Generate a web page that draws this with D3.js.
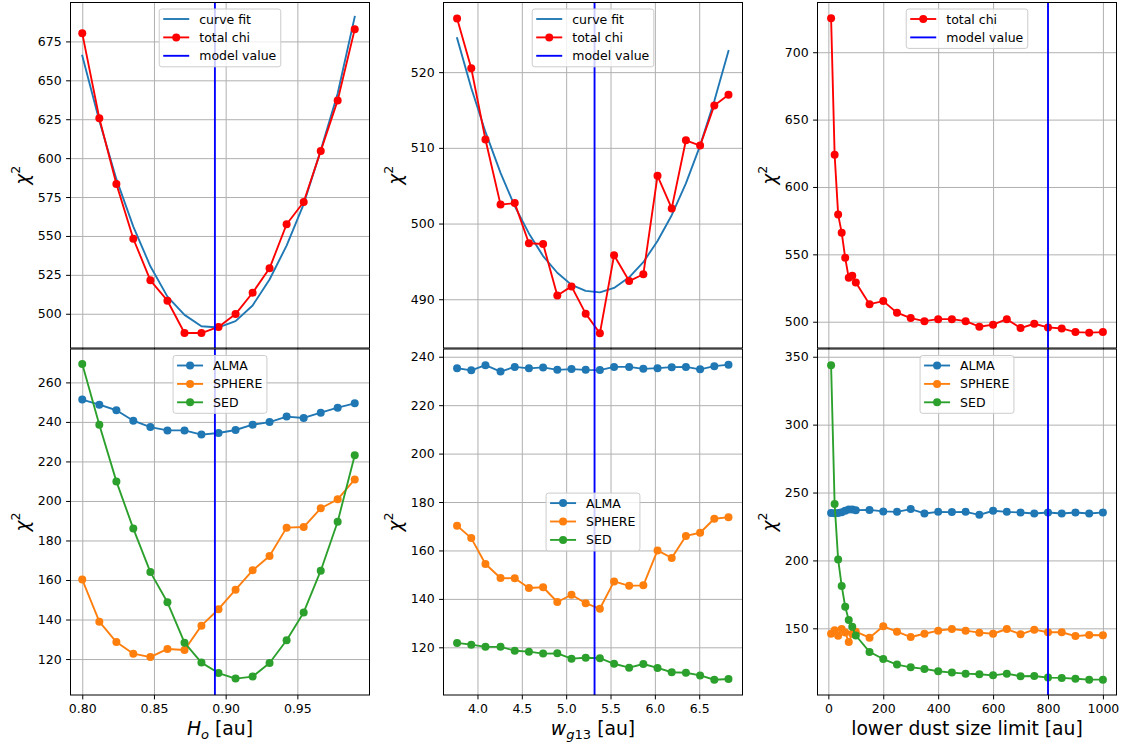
<!DOCTYPE html>
<html>
<head>
<meta charset="utf-8">
<script src="https://cdn.jsdelivr.net/npm/d3@7/dist/d3.min.js"></script>
<style>
body { margin: 0; background: #fff; }
svg { display: block; font-family: "DejaVu Sans", sans-serif; }
</style>
</head>
<body>
<svg id="chart" width="1126" height="748"></svg>
<script>
// scan over H_o
var hoX = [0.8, 0.8119, 0.8238, 0.8356, 0.8475, 0.8594, 0.8713, 0.8831, 0.895, 0.9069, 0.9188, 0.9306, 0.9425, 0.9544, 0.9663, 0.9781, 0.99];
var hoTotal = [680.2, 625.6, 583.4, 548.2, 521.5, 508.4, 487.6, 487.6, 491.5, 499.8, 513.5, 529.2, 557.5, 571.8, 604.6, 637.1, 682.8];
var hoFit = [665.8, 624.0, 586.5, 556.0, 530.5, 511.0, 499.3, 492.0, 491.2, 495.3, 505.3, 522.0, 543.8, 570.5, 605.0, 641.5, 690.8];
var hoAlma = [251.3, 248.7, 245.9, 240.6, 237.4, 235.7, 235.7, 233.6, 234.4, 235.9, 238.6, 239.9, 242.7, 242.0, 244.7, 247.2, 249.4];
var hoSphere = [160.2, 138.9, 128.6, 122.7, 121.0, 125.1, 124.6, 136.9, 145.2, 155.1, 164.9, 172.1, 186.5, 186.8, 196.3, 200.8, 210.9];
var hoSed = [269.3, 238.6, 209.9, 186.0, 164.0, 148.7, 128.3, 118.2, 112.9, 110.1, 111.1, 118.0, 129.5, 143.6, 164.7, 189.5, 223.1];
var hoModel = 0.8925;

// scan over w_g13
var wgX = [3.77, 3.93, 4.09, 4.26, 4.42, 4.58, 4.74, 4.90, 5.06, 5.22, 5.38, 5.54, 5.71, 5.87, 6.03, 6.19, 6.35, 6.51, 6.67, 6.83];
var wgTotal = [527.1, 520.5, 511.1, 502.5, 502.7, 497.4, 497.3, 490.5, 491.7, 488.1, 485.5, 495.8, 492.4, 493.3, 506.3, 502.0, 511.0, 510.3, 515.6, 517.0];
var wgFit = [524.5, 517.9, 512.1, 506.7, 502.3, 498.7, 495.7, 493.5, 491.9, 491.1, 490.9, 491.5, 492.9, 494.9, 497.7, 501.1, 505.3, 510.3, 516.2, 522.8];
var wgAlma = [235.3, 234.4, 236.5, 233.9, 235.8, 235.2, 235.6, 234.6, 234.9, 234.6, 234.5, 235.8, 235.8, 235.0, 235.3, 235.7, 235.8, 234.8, 236.1, 236.7];
var wgSphere = [170.2, 165.1, 154.4, 148.6, 148.5, 144.5, 144.8, 138.7, 141.7, 138.2, 135.9, 147.2, 145.4, 145.6, 160.0, 156.9, 166.0, 167.3, 173.1, 173.7];
var wgSed = [121.8, 121.1, 120.2, 120.2, 118.6, 118.2, 117.4, 117.5, 115.3, 115.7, 115.5, 113.2, 111.6, 113.1, 111.5, 109.7, 109.5, 108.4, 106.6, 106.9];
var wgModel = 5.32;

// scan over lower dust size limit
var sizeX = [10, 22.9, 35.7, 48.6, 61.4, 74.3, 87.1, 100, 150, 200, 250, 300, 350, 400, 450, 500, 550, 600, 650, 700, 750, 800, 850, 900, 950, 1000];
var sizeTotal = [725.2, 623.9, 579.5, 566.1, 547.4, 532.6, 534.1, 529.1, 513.0, 515.3, 506.7, 502.7, 500.4, 501.9, 501.9, 500.4, 496.3, 497.8, 501.9, 495.3, 498.5, 495.8, 495.0, 492.3, 491.9, 492.3];
var sizeAlma = [235.0, 234.8, 235.0, 235.5, 236.5, 237.5, 237.5, 237.0, 237.2, 236.1, 235.8, 237.8, 234.6, 235.8, 235.6, 235.8, 233.6, 236.6, 235.8, 235.3, 234.6, 235.3, 234.6, 235.3, 234.6, 235.3];
var sizeSphere = [146.0, 148.5, 144.5, 149.5, 147.0, 140.0, 146.0, 147.5, 143.1, 151.5, 147.5, 143.6, 146.0, 148.3, 149.5, 148.3, 146.8, 146.0, 149.5, 145.6, 149.0, 147.1, 147.1, 144.3, 145.1, 144.9];
var sizeSed = [343.8, 241.5, 200.7, 181.2, 165.9, 156.1, 151.1, 144.7, 132.6, 127.4, 123.3, 121.3, 120.1, 118.4, 117.4, 116.6, 116.2, 115.4, 116.6, 114.7, 114.9, 113.7, 113.5, 112.9, 112.2, 112.2];
var sizeModel = 800;

// tick labels
var hoTicks = [0.80, 0.85, 0.90, 0.95];
var wgTicks = [4.0, 4.5, 5.0, 5.5, 6.0, 6.5];
var sizeTicks = [0, 200, 400, 600, 800, 1000];
var hoTopTicks = [500, 525, 550, 575, 600, 625, 650, 675];
var wgTopTicks = [490, 500, 510, 520];
var sizeTopTicks = [500, 550, 600, 650, 700];
var hoBotTicks = [120, 140, 160, 180, 200, 220, 240, 260];
var wgBotTicks = [120, 140, 160, 180, 200, 220, 240];
var sizeBotTicks = [150, 200, 250, 300, 350];

var C_BLUE = "#1f77b4", C_ORANGE = "#ff7f0e", C_GREEN = "#2ca02c";
var colLeft = [70.5, 443.5, 817.5],
    rowTop = [2.5, 349],
    rowH = [345.5, 346],
    axW = 299,
    lw = 1.875,
    mr = 4;

var svg = d3.select("#chart");

var topItems = [
    {label: "curve fit", color: C_BLUE, marker: false},
    {label: "total chi", color: "red", marker: true},
    {label: "model value", color: "blue", marker: false}
];
var botItems = [
    {label: "ALMA", color: C_BLUE, marker: true},
    {label: "SPHERE", color: C_ORANGE, marker: true},
    {label: "SED", color: C_GREEN, marker: true}
];

var panels = [
    {col: 0, row: 0, x: hoX, xDomain: [0.7918, 1.0003], yDomain: [478, 700], xTicks: hoTicks, yTicks: hoTopTicks, xFmt: ".2f",
     series: [{y: hoFit, color: C_BLUE, marker: false}, {y: hoTotal, color: "red", marker: true}],
     model: hoModel, legend: topItems, loc: "upper"},
    {col: 1, row: 0, x: wgX, xDomain: [3.617, 6.988], yDomain: [483.56, 529.2], xTicks: wgTicks, yTicks: wgTopTicks, xFmt: ".1f",
     series: [{y: wgFit, color: C_BLUE, marker: false}, {y: wgTotal, color: "red", marker: true}],
     model: wgModel, legend: topItems, loc: "upper"},
    {col: 2, row: 0, x: sizeX, xDomain: [-39.5, 1049.5], yDomain: [480.5, 736.9], xTicks: sizeTicks, yTicks: sizeTopTicks, xFmt: "d",
     series: [{y: sizeTotal, color: "red", marker: true}],
     model: sizeModel, legend: topItems.slice(1), loc: "upper"},
    {col: 0, row: 1, x: hoX, xDomain: [0.7918, 1.0003], yDomain: [101.8, 276.9], xTicks: hoTicks, yTicks: hoBotTicks, xFmt: ".2f",
     series: [{y: hoAlma, color: C_BLUE, marker: true}, {y: hoSphere, color: C_ORANGE, marker: true}, {y: hoSed, color: C_GREEN, marker: true}],
     model: hoModel, legend: botItems, loc: "upper",
     xLabel: [{t: "H", it: true}, {t: "o", it: true, sub: true}, {t: " [au]"}]},
    {col: 1, row: 1, x: wgX, xDomain: [3.617, 6.988], yDomain: [100.3, 243.2], xTicks: wgTicks, yTicks: wgBotTicks, xFmt: ".1f",
     series: [{y: wgAlma, color: C_BLUE, marker: true}, {y: wgSphere, color: C_ORANGE, marker: true}, {y: wgSed, color: C_GREEN, marker: true}],
     model: wgModel, legend: botItems, loc: "center",
     xLabel: [{t: "w", it: true}, {t: "g", it: true, sub: true}, {t: "13", sub: true}, {t: " [au]"}]},
    {col: 2, row: 1, x: sizeX, xDomain: [-39.5, 1049.5], yDomain: [100.9, 355.7], xTicks: sizeTicks, yTicks: sizeBotTicks, xFmt: "d",
     series: [{y: sizeAlma, color: C_BLUE, marker: true}, {y: sizeSphere, color: C_ORANGE, marker: true}, {y: sizeSed, color: C_GREEN, marker: true}],
     model: sizeModel, legend: botItems, loc: "upper",
     xLabel: [{t: "lower dust size limit [au]"}]}
];

panels.forEach(drawPanel);

function drawPanel(p) {
    var w = axW,
        h = rowH[p.row],
        x = d3.scaleLinear().domain(p.xDomain).range([0, w]),
        y = d3.scaleLinear().domain(p.yDomain).range([h, 0]),
        g = svg.append("g").attr("transform", "translate(" + colLeft[p.col] + "," + rowTop[p.row] + ")");

    g.append("rect").attr("width", w).attr("height", h).attr("fill", "white");

    // grid
    g.append("g")
        .call(d3.axisBottom(x).tickValues(p.xTicks).tickSize(h).tickFormat(""))
        .call(styleGrid);
    g.append("g")
        .call(d3.axisLeft(y).tickValues(p.yTicks).tickSize(-w).tickFormat(""))
        .call(styleGrid);

    var line = d3.line()
        .x(function(d) { return x(d[0]); })
        .y(function(d) { return y(d[1]); });

    p.series.forEach(function(s) {
        var pts = d3.zip(p.x, s.y);
        g.append("path")
            .datum(pts)
            .attr("fill", "none")
            .attr("stroke", s.color)
            .attr("stroke-width", lw)
            .attr("stroke-linejoin", "round")
            .attr("stroke-linecap", "square")
            .attr("d", line);
        if (s.marker) {
            g.append("g").selectAll("circle")
                .data(pts)
                .enter().append("circle")
                .attr("cx", function(d) { return x(d[0]); })
                .attr("cy", function(d) { return y(d[1]); })
                .attr("r", mr)
                .attr("fill", s.color);
        }
    });

    g.append("line")
        .attr("x1", x(p.model)).attr("x2", x(p.model))
        .attr("y1", 0).attr("y2", h)
        .attr("stroke", "blue")
        .attr("stroke-width", lw);

    // spines
    g.append("rect")
        .attr("width", w).attr("height", h)
        .attr("fill", "none")
        .attr("stroke", "black")
        .attr("stroke-width", 1);

    // top row x labels sit under the bottom row, so only the ticks are drawn there
    var xFmt = p.row == 0 ? "" : d3.format(p.xFmt);
    g.append("g")
        .attr("transform", "translate(0," + h + ")")
        .call(d3.axisBottom(x).tickValues(p.xTicks).tickFormat(xFmt).tickSize(4.4).tickPadding(4.4).tickSizeOuter(0))
        .call(styleAxis);
    g.append("g")
        .call(d3.axisLeft(y).tickValues(p.yTicks).tickFormat(d3.format("d")).tickSize(4.4).tickPadding(4.4).tickSizeOuter(0))
        .call(styleAxis);

    // chi^2 label
    var yl = g.append("text")
        .attr("transform", "translate(-42," + (h / 2) + ") rotate(-90)")
        .attr("text-anchor", "middle")
        .attr("font-size", 18.5)
        .attr("fill", "black");
    yl.append("tspan").attr("font-style", "italic").text("χ");
    yl.append("tspan").attr("font-size", 12.5).attr("dy", -9).text("2");

    if (p.xLabel) {
        var xl = g.append("text")
            .attr("x", w / 2)
            .attr("y", h + 40)
            .attr("text-anchor", "middle")
            .attr("font-size", 18.75)
            .attr("fill", "black");
        var shifted = false;
        p.xLabel.forEach(function(part) {
            var ts = xl.append("tspan").text(part.t);
            if (part.it) ts.attr("font-style", "italic");
            if (part.sub) {
                ts.attr("font-size", 13.1);
                if (!shifted) ts.attr("dy", 4);
                shifted = true;
            } else if (shifted) {
                ts.attr("dy", -4);
                shifted = false;
            }
        });
    }

    drawLegend(g, w, h, p.legend, p.loc);
}

function styleGrid(sel) {
    sel.select(".domain").remove();
    sel.selectAll(".tick line")
        .attr("stroke", "#b0b0b0")
        .attr("stroke-width", 1);
}

function styleAxis(sel) {
    sel.select(".domain").remove();
    sel.selectAll(".tick line").attr("stroke", "black").attr("stroke-width", 1);
    sel.selectAll(".tick text")
        .attr("font-size", 12.5)
        .attr("font-family", "DejaVu Sans")
        .attr("fill", "black");
}

function drawLegend(g, w, h, items, loc) {
    var rowStep = 18.4,
        boxH = 21 + (items.length - 1) * rowStep,
        lg = g.append("g");

    var bg = lg.append("rect")
        .attr("rx", 2.5).attr("ry", 2.5)
        .attr("fill", "white")
        .attr("fill-opacity", 0.8)
        .attr("stroke", "#cccccc")
        .attr("stroke-width", 1);

    var maxW = 0;
    items.forEach(function(it, i) {
        var cy = 10 + i * rowStep;
        lg.append("line")
            .attr("x1", 4).attr("x2", 30)
            .attr("y1", cy).attr("y2", cy)
            .attr("stroke", it.color)
            .attr("stroke-width", lw);
        if (it.marker) {
            lg.append("circle").attr("cx", 17).attr("cy", cy).attr("r", mr).attr("fill", it.color);
        }
        var t = lg.append("text")
            .attr("x", 40).attr("y", cy + 4.5)
            .attr("font-size", 12.5)
            .attr("fill", "black")
            .text(it.label);
        maxW = Math.max(maxW, t.node().getComputedTextLength());
    });

    var boxW = 40 + maxW + 4.5;
    bg.attr("width", boxW).attr("height", boxH);

    var top = loc == "center" ? (h - boxH) / 2 : 6.5;
    lg.attr("transform", "translate(" + ((w - boxW) / 2) + "," + top + ")");
}
</script>
</body>
</html>
